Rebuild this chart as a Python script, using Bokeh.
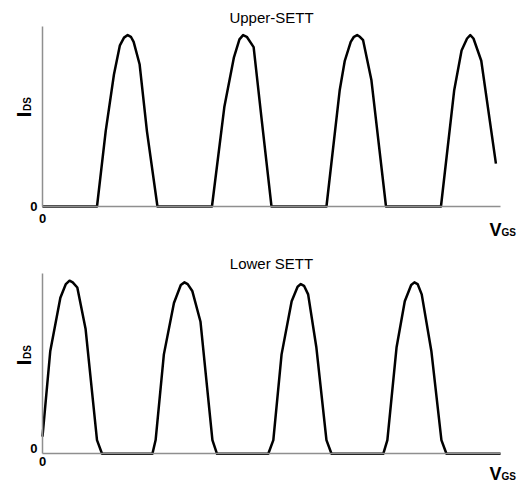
import math
from bokeh.plotting import figure
from bokeh.models import Range1d, Label, FixedTicker
from bokeh.layouts import column
from bokeh.embed import file_html
from bokeh.resources import INLINE

# ---- data ----
upper_title = "Upper-SETT"
lower_title = "Lower SETT"
x_tick_label = "0"
y_tick_label = "0"
y_label_main, y_label_sub = "I", "DS"
x_label_main, x_label_sub = "V", "GS"
vgs_span = (0.0, 10.0)      # extent of the V_GS axis
ids_span = (0.0, 1.05)      # extent of the I_DS axis

upper_vgs = [0.00, 1.19, 1.38, 1.56, 1.69, 1.78, 1.86, 1.93, 1.99, 2.12, 2.28, 2.51,
             3.70, 3.97, 4.18, 4.30, 4.38, 4.46, 4.61, 4.78, 5.00,
             6.20, 6.49, 6.60, 6.73, 6.80, 6.87, 6.93, 7.00, 7.18, 7.50,
             8.70, 8.99, 9.15, 9.27, 9.34, 9.41, 9.58, 9.90]
upper_ids = [0.00, 0.00, 0.44, 0.77, 0.94, 0.985, 1.00, 0.99, 0.96, 0.83, 0.44, 0.00,
             0.00, 0.58, 0.87, 0.975, 1.00, 0.99, 0.93, 0.52, 0.00,
             0.00, 0.68, 0.85, 0.96, 0.99, 1.00, 0.99, 0.97, 0.74, 0.00,
             0.00, 0.68, 0.91, 0.98, 1.00, 0.98, 0.85, 0.25]

lower_vgs = [0.00, 0.17, 0.39, 0.51, 0.59, 0.66, 0.76, 0.94, 1.19, 1.30,
             2.40, 2.47, 2.65, 2.87, 3.02, 3.10, 3.17, 3.27, 3.45, 3.71, 3.81,
             4.93, 5.04, 5.22, 5.44, 5.57, 5.64, 5.71, 5.80, 5.98, 6.20, 6.31,
             7.44, 7.53, 7.73, 7.91, 8.05, 8.12, 8.19, 8.28, 8.49, 8.71, 8.82, 10.00]
lower_ids = [0.10, 0.60, 0.91, 0.99, 1.01, 1.00, 0.97, 0.73, 0.08, 0.00,
             0.00, 0.08, 0.58, 0.88, 0.985, 1.00, 0.99, 0.95, 0.77, 0.08, 0.00,
             0.00, 0.08, 0.58, 0.89, 0.975, 0.99, 0.98, 0.93, 0.62, 0.08, 0.00,
             0.00, 0.08, 0.62, 0.89, 0.985, 1.00, 0.99, 0.93, 0.60, 0.08, 0.00, 0.00]

FONT = "Liberation Sans"
AXIS_GRAY = "#8f8f8f"
W = 520


def make_panel(title, xs, ys, H, ax_left, ax_right, ax_top, ax_bottom,
               t_y, y0_y, x0_y, i_y, v_y):
    # pixel layout -> ranges so that the frame covers the whole canvas
    sx = (ax_right - ax_left) / (vgs_span[1] - vgs_span[0])
    sy = (ax_bottom - ax_top) / (ids_span[1] - ids_span[0])
    x_start = vgs_span[0] - ax_left / sx
    x_end = vgs_span[1] + (W - ax_right) / sx
    y_start = ids_span[0] - (H - ax_bottom) / sy
    y_end = ids_span[1] + ax_top / sy

    p = figure(width=W, height=H, output_backend="svg", toolbar_location=None,
               title=None,
               x_range=Range1d(x_start, x_end), y_range=Range1d(y_start, y_end),
               min_border=0, min_border_left=0, min_border_right=0,
               min_border_top=0, min_border_bottom=0)
    p.outline_line_color = None
    p.grid.visible = False
    p.background_fill_color = "white"
    p.border_fill_color = "white"
    for ax, b in ((p.xaxis[0], vgs_span), (p.yaxis[0], ids_span)):
        ax.fixed_location = 0
        ax.bounds = b
        ax.ticker = FixedTicker(ticks=[])
        ax.axis_line_color = AXIS_GRAY
        ax.axis_line_width = 1.5
        ax.major_tick_line_color = None
        ax.minor_tick_line_color = None
        ax.major_tick_out = 0
        ax.major_tick_in = 0
        ax.minor_tick_out = 0
        ax.minor_tick_in = 0
        ax.major_label_standoff = 0
        ax.major_label_text_font_size = "0px"
    p.line(xs, ys, line_color="black", line_width=2.5, line_join="round")

    def lab(text, x, y, size, bold=False, align="left", baseline="alphabetic", angle=0.0):
        p.add_layout(Label(x=x, y=H - y, x_units="screen", y_units="screen", text=text,
                           text_font=FONT, text_font_size=size,
                           text_font_style="bold" if bold else "normal",
                           text_align=align, text_baseline=baseline, angle=angle,
                           text_color="black"))

    lab(title, (ax_left + ax_right) / 2, t_y, "15px", align="center")
    lab(y_tick_label, ax_left - 5, y0_y, "13px", bold=True, align="right", baseline="middle")
    lab(x_tick_label, ax_left, x0_y, "13px", bold=True, align="center", baseline="top")
    lab(y_label_main, 23, i_y, "21px", bold=True, angle=math.pi / 2)
    lab(y_label_sub, 27, i_y - 6.5, "10px", bold=True, angle=math.pi / 2)
    lab(x_label_main, 489, v_y, "18px", bold=True)
    lab(x_label_sub, 501, v_y + 3, "10px", bold=True)
    return p


# upper panel: canvas rows 0..244, lower panel: rows 244..488
p1 = make_panel(upper_title, upper_vgs, upper_ids, 244,
                42, 500, 26, 206, 17, 206, 213, 117, 229)
p2 = make_panel(lower_title, lower_vgs, lower_ids, 244,
                42, 500, 29.3, 209.3, 19, 204, 212, 121, 229)

layout = column(p1, p2)
open("out.html", "w").write(file_html(layout, INLINE))
